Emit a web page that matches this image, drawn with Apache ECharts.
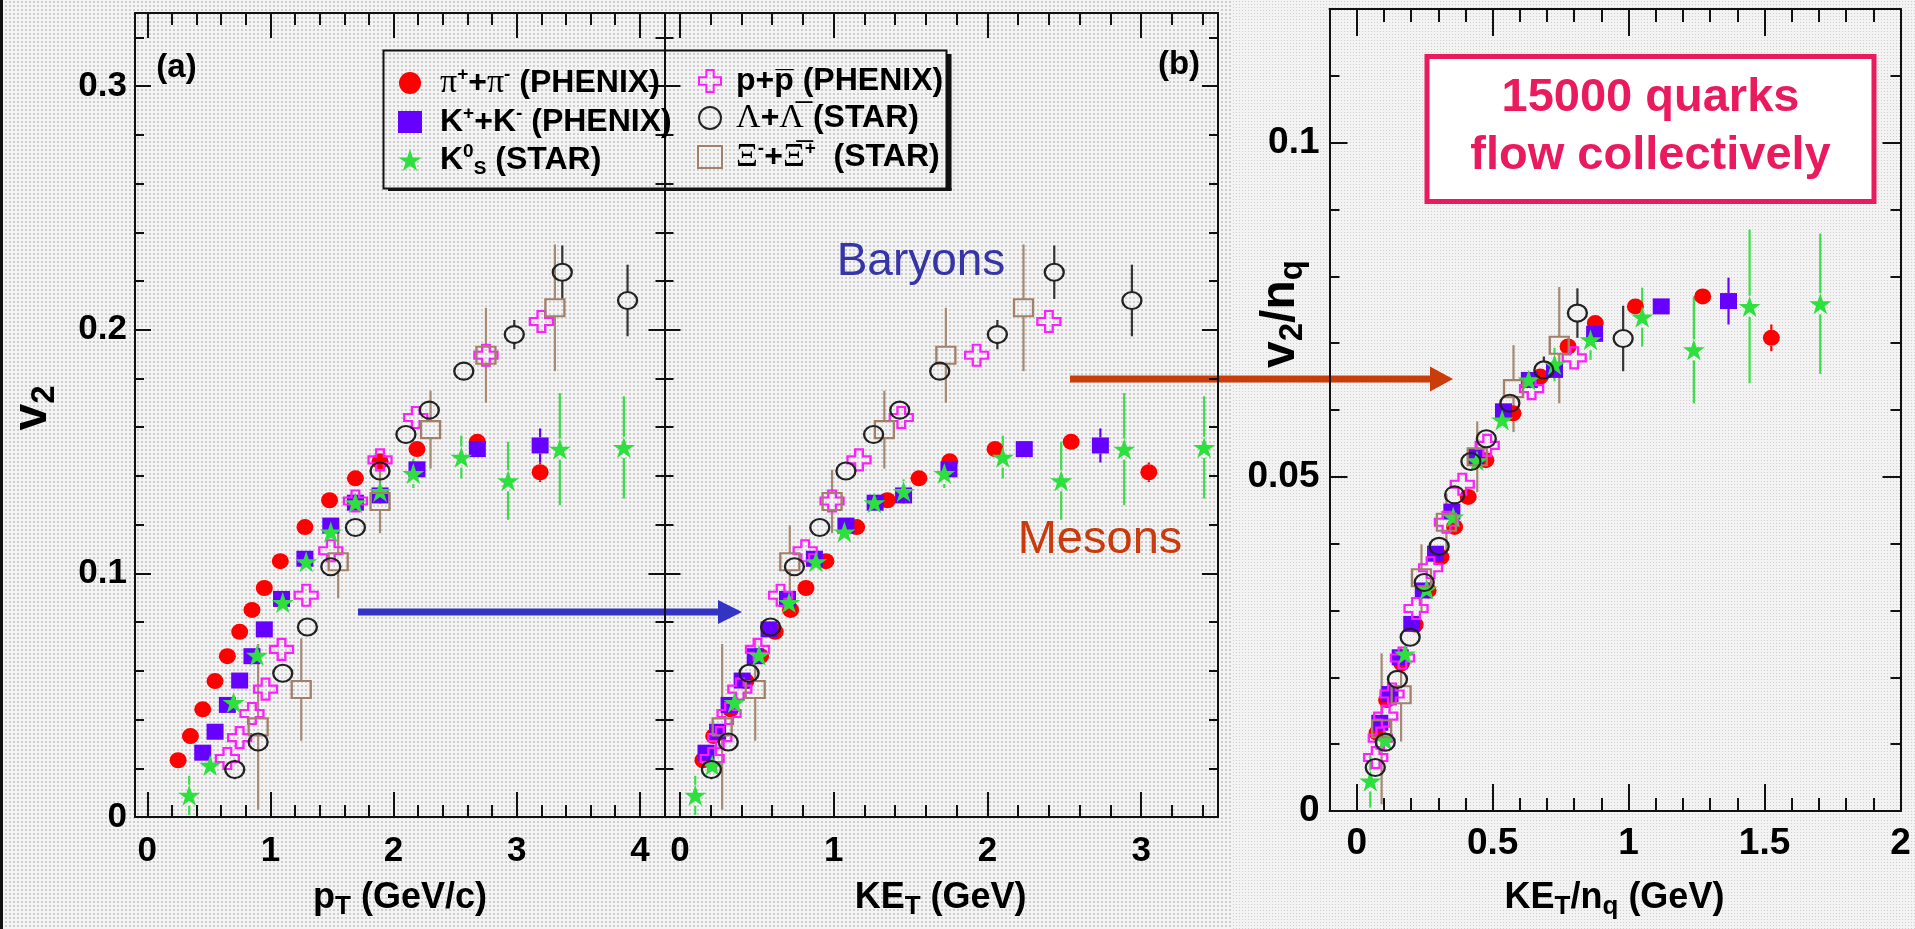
<!DOCTYPE html>
<html>
<head>
<meta charset="utf-8">
<title>Elliptic flow v2 scaling</title>
<script src="https://cdn.jsdelivr.net/npm/echarts@6/dist/echarts.min.js"></script>
<style>
  html, body { margin: 0; padding: 0; width: 1915px; height: 929px; overflow: hidden; background: #f4f4f4; }
  #bgLeft { position: absolute; left: 0; top: 0; width: 1232px; height: 929px;
    background-color: #f4f4f4;
    background-image: radial-gradient(#cdcdcd 0.9px, transparent 1.1px);
    background-size: 4px 4px; }
  #bgRight { position: absolute; left: 1232px; top: 0; width: 683px; height: 929px;
    background-color: #f3f3f3;
    background-image: radial-gradient(#cfcfcf 0.8px, transparent 1px);
    background-size: 3px 3px; }
  #chart { position: absolute; left: 0; top: 0; width: 1915px; height: 929px; }
</style>
</head>
<body>
<div id="bgLeft"></div>
<div id="bgRight"></div>
<div id="chart"></div>
<script>
// ---------------- data ----------------
// Species labels
const NAMES = ['π⁺+π⁻ (PHENIX)', 'K⁺+K⁻ (PHENIX)', 'K⁰s (STAR)', 'p+p̄ (PHENIX)', 'Λ+Λ̄ (STAR)', 'Ξ⁻+Ξ̄⁺ (STAR)'];

// pi+ + pi-  (PHENIX)
const pionPt    = [0.25, 0.35, 0.45, 0.55, 0.65, 0.75, 0.85, 0.95, 1.08, 1.28, 1.48, 1.69, 1.89, 2.19, 2.68, 3.19];
const pionKeT   = [0.15, 0.22, 0.33, 0.43, 0.525, 0.62, 0.72, 0.82, 0.95, 1.15, 1.35, 1.555, 1.755, 2.05, 2.545, 3.05];
const pionV2    = [0.0233, 0.0332, 0.0442, 0.0558, 0.066, 0.076, 0.085, 0.094, 0.105, 0.119, 0.130, 0.139, 0.146, 0.151, 0.154, 0.1415];
const pionErr   = [0, 0, 0, 0, 0, 0, 0, 0, 0, 0, 0, 0, 0, 0, 0, 0.004];
const pionKeTNq = [0.075, 0.11, 0.165, 0.215, 0.2625, 0.31, 0.36, 0.41, 0.475, 0.575, 0.675, 0.7775, 0.8775, 1.025, 1.2725, 1.525];
const pionV2Nq  = [0.0117, 0.0166, 0.0221, 0.0279, 0.033, 0.038, 0.0425, 0.047, 0.0525, 0.0595, 0.065, 0.0695, 0.073, 0.0755, 0.077, 0.0708];
const pionErrNq = [0, 0, 0, 0, 0, 0, 0, 0, 0, 0, 0, 0, 0, 0, 0, 0.002];

// K+ + K-  (PHENIX)
const kaonPt    = [0.45, 0.55, 0.65, 0.75, 0.85, 0.95, 1.09, 1.28, 1.49, 1.69, 1.89, 2.19, 2.68, 3.19];
const kaonKeT   = [0.17, 0.245, 0.32, 0.405, 0.49, 0.58, 0.70, 0.875, 1.08, 1.27, 1.455, 1.75, 2.24, 2.735];
const kaonV2    = [0.0264, 0.035, 0.046, 0.056, 0.066, 0.077, 0.0895, 0.106, 0.1196, 0.129, 0.132, 0.1427, 0.151, 0.1525];
const kaonErr   = [0, 0, 0, 0, 0, 0, 0, 0, 0, 0, 0, 0, 0, 0.007];
const kaonKeTNq = [0.085, 0.1225, 0.16, 0.2025, 0.245, 0.29, 0.35, 0.4375, 0.54, 0.635, 0.7275, 0.875, 1.12, 1.3675];
const kaonV2Nq  = [0.0132, 0.0175, 0.023, 0.028, 0.033, 0.0385, 0.0448, 0.053, 0.0598, 0.0645, 0.066, 0.0714, 0.0755, 0.0763];
const kaonErrNq = [0, 0, 0, 0, 0, 0, 0, 0, 0, 0, 0, 0, 0, 0.0035];

// K0s  (STAR)
const k0sPt     = [0.34, 0.51, 0.70, 0.89, 1.10, 1.29, 1.49, 1.69, 1.89, 2.16, 2.55, 2.93, 3.35, 3.87];
const k0sKeT    = [0.10, 0.21, 0.355, 0.515, 0.71, 0.885, 1.07, 1.265, 1.455, 1.72, 2.10, 2.48, 2.89, 3.41];
const k0sV2     = [0.0089, 0.0212, 0.047, 0.0664, 0.088, 0.1048, 0.117, 0.129, 0.1336, 0.141, 0.1477, 0.138, 0.151, 0.1517];
const k0sErr    = [0.008, 0.003, 0.002, 0.002, 0.002, 0.002, 0.003, 0.003, 0.005, 0.006, 0.0088, 0.016, 0.023, 0.021];
const k0sKeTNq  = [0.05, 0.105, 0.1775, 0.2575, 0.355, 0.4425, 0.535, 0.6325, 0.7275, 0.86, 1.05, 1.24, 1.445, 1.705];
const k0sV2Nq   = [0.0045, 0.0106, 0.0235, 0.0332, 0.044, 0.0524, 0.0585, 0.0645, 0.0668, 0.0705, 0.0739, 0.069, 0.0755, 0.0759];
const k0sErrNq  = [0.004, 0.0015, 0.001, 0.001, 0.001, 0.001, 0.0015, 0.0015, 0.0025, 0.003, 0.0044, 0.008, 0.0115, 0.0105];

// p + pbar  (PHENIX)
const protonPt    = [0.65, 0.75, 0.85, 0.96, 1.09, 1.29, 1.49, 1.69, 1.89, 2.18, 2.75, 3.20];
const protonKeT   = [0.21, 0.26, 0.32, 0.39, 0.505, 0.655, 0.815, 0.99, 1.165, 1.44, 1.93, 2.40];
const protonV2    = [0.024, 0.0326, 0.0425, 0.0525, 0.0688, 0.091, 0.1093, 0.1297, 0.1466, 0.164, 0.1895, 0.2034];
const protonKeTNq = [0.07, 0.0867, 0.1067, 0.13, 0.1683, 0.2183, 0.2717, 0.33, 0.3883, 0.48, 0.6433, 0.80];
const protonV2Nq  = [0.008, 0.0109, 0.0142, 0.0175, 0.0229, 0.0303, 0.0364, 0.0432, 0.0489, 0.0547, 0.0632, 0.0678];

// Lambda + anti-Lambda  (STAR)
const lambdaPt    = [0.71, 0.90, 1.10, 1.30, 1.49, 1.69, 1.89, 2.10, 2.29, 2.57, 2.98, 3.37, 3.90];
const lambdaKeT   = [0.205, 0.315, 0.45, 0.59, 0.745, 0.91, 1.08, 1.26, 1.43, 1.69, 2.065, 2.435, 2.94];
const lambdaV2    = [0.0195, 0.0308, 0.059, 0.078, 0.1027, 0.1188, 0.142, 0.157, 0.167, 0.183, 0.198, 0.2236, 0.212];
const lambdaErr   = [0.004, 0.002, 0.002, 0.002, 0.002, 0.002, 0.003, 0.002, 0.003, 0.003, 0.006, 0.011, 0.0147];
const lambdaKeTNq = [0.0683, 0.105, 0.15, 0.1967, 0.2483, 0.3033, 0.36, 0.42, 0.4767, 0.5633, 0.6883, 0.8117, 0.98];
const lambdaV2Nq  = [0.0065, 0.0103, 0.0197, 0.026, 0.0342, 0.0396, 0.0473, 0.0523, 0.0557, 0.061, 0.066, 0.0745, 0.0707];
const lambdaErrNq = [0.0013, 0.0007, 0.0007, 0.0007, 0.0007, 0.0007, 0.001, 0.0007, 0.001, 0.001, 0.002, 0.0037, 0.0049];

// Xi- + anti-Xi+  (STAR)
const xiPt    = [0.90, 1.25, 1.55, 1.89, 2.30, 2.75, 3.31];
const xiKeT   = [0.275, 0.49, 0.715, 0.99, 1.33, 1.73, 2.235];
const xiV2    = [0.037, 0.0523, 0.1048, 0.1295, 0.159, 0.1895, 0.209];
const xiErr   = [0.034, 0.021, 0.015, 0.013, 0.016, 0.0195, 0.026];
const xiKeTNq = [0.0917, 0.1633, 0.2383, 0.33, 0.4433, 0.5767, 0.745];
const xiV2Nq  = [0.0123, 0.0174, 0.0349, 0.0432, 0.053, 0.0632, 0.0697];
const xiErrNq = [0.0113, 0.007, 0.005, 0.0043, 0.0053, 0.0065, 0.0087];

// Tick labels
const xTicksA = [0, 1, 2, 3, 4];
const xTicksB = [0, 1, 2, 3];
const xTicksC = [0, 0.5, 1, 1.5, 2];
const yTicksAB = [0, 0.1, 0.2, 0.3];
const yTicksC = [0, 0.05, 0.1];

// ---------------- styling ----------------
const FONT = '"Liberation Sans", Arial, Helvetica, sans-serif';
const SERIF = '"Liberation Serif", "Times New Roman", serif';
const STAR = 'path://M50,0L61.8,35.4L98.9,35.4L68.9,57.3L80.3,92.7L50,70.8L19.7,92.7L31.1,57.3L1.1,35.4L38.2,35.4Z';
const CROSS = 'path://M1,0L2,0L2,1L3,1L3,2L2,2L2,3L1,3L1,2L0,2L0,1L1,1Z';
const INK = '#111';

// panel geometry: [left, top, width, height] and axis ranges
const PANELS = [
  { box: [135, 13, 529.5, 804], x: [-0.1, 4.2], y: [0, 0.33], xMajor: xTicksA, xStep: 0.2, yMajor: yTicksAB, yStep: 0.02, yLabels: true,
    tick: { xMaj: 25, xMin: 12, yMaj: 16, yMin: 9 } },
  { box: [664.5, 13, 553.5, 804], x: [-0.1, 3.5], y: [0, 0.33], xMajor: xTicksB, xStep: 0.2, yMajor: yTicksAB, yStep: 0.02, yLabels: false,
    tick: { xMaj: 25, xMin: 12, yMaj: 16, yMin: 9 } },
  { box: [1329.5, 9, 571, 802], x: [-0.1, 2.0], y: [0, 0.12], xMajor: xTicksC, xStep: 0.1, yMajor: yTicksC, yStep: 0.01, yLabels: true,
    tick: { xMaj: 27, xMin: 13, yMaj: 18, yMin: 10 } }
];

const SPECIES = [
  { name: NAMES[0], x: [pionPt, pionKeT, pionKeTNq], y: [pionV2, pionV2, pionV2Nq], e: [pionErr, pionErr, pionErrNq],
    symbol: 'circle', size: [17, 16], fill: '#ff0000', errColor: '#ff0000' },
  { name: NAMES[1], x: [kaonPt, kaonKeT, kaonKeTNq], y: [kaonV2, kaonV2, kaonV2Nq], e: [kaonErr, kaonErr, kaonErrNq],
    symbol: 'rect', size: [17, 16], fill: '#6600ff', errColor: '#6600ff' },
  { name: NAMES[3], x: [protonPt, protonKeT, protonKeTNq], y: [protonV2, protonV2, protonV2Nq], e: null,
    symbol: CROSS, size: [23, 21], stroke: '#ff1eff', errColor: '#ff1eff' },
  { name: NAMES[2], x: [k0sPt, k0sKeT, k0sKeTNq], y: [k0sV2, k0sV2, k0sV2Nq], e: [k0sErr, k0sErr, k0sErrNq],
    symbol: STAR, size: [22, 21], fill: '#2ee03e', errColor: '#3ade48' },
  { name: NAMES[5], x: [xiPt, xiKeT, xiKeTNq], y: [xiV2, xiV2, xiV2Nq], e: [xiErr, xiErr, xiErrNq],
    symbol: 'rect', size: [19, 17], stroke: '#a2806a', errColor: '#a58a74' },
  { name: NAMES[4], x: [lambdaPt, lambdaKeT, lambdaKeTNq], y: [lambdaV2, lambdaV2, lambdaV2Nq], e: [lambdaErr, lambdaErr, lambdaErrNq],
    symbol: 'circle', size: [19, 17], stroke: '#222222', errColor: '#333333' }
];

// ---------------- axes ----------------
function gridTicks(min, max, step) {
  const out = [];
  for (let i = Math.ceil(min / step - 1e-9); i * step <= max + 1e-9; i++) out.push(+(i * step).toFixed(6));
  return out;
}

const grids = [], xAxes = [], yAxes = [];
PANELS.forEach((p, gi) => {
  grids.push({ left: p.box[0], top: p.box[1], width: p.box[2], height: p.box[3], containLabel: false });
  const xMinor = gridTicks(p.x[0], p.x[1], p.xStep);
  const yMinor = gridTicks(p.y[0], p.y[1], p.yStep);
  const mk = (pos, range, ticks, len, line, labels, margin) => ({
    type: 'value', gridIndex: gi, position: pos, min: range[0], max: range[1],
    axisLine: { show: line, onZero: false, lineStyle: { color: INK, width: 2 } },
    axisTick: { show: true, inside: true, length: len, customValues: ticks, lineStyle: { color: INK, width: 2 } },
    axisLabel: labels ? { show: true, customValues: labels, margin: margin, color: '#000',
      fontFamily: FONT, fontWeight: 'bold', fontSize: gi === 2 ? 37 : 35 } : { show: false },
    splitLine: { show: false }, minorTick: { show: false }
  });
  // x: bottom major (carries data), bottom minor, top major, top minor
  xAxes.push(mk('bottom', p.x, p.xMajor, p.tick.xMaj, true, p.xMajor, gi === 2 ? 14 : 17));
  xAxes.push(mk('bottom', p.x, xMinor, p.tick.xMin, false, null));
  xAxes.push(mk('top', p.x, p.xMajor, p.tick.xMaj, true, null));
  xAxes.push(mk('top', p.x, xMinor, p.tick.xMin, false, null));
  // y: left major (carries data), left minor, right major, right minor
  yAxes.push(mk('left', p.y, p.yMajor, p.tick.yMaj, true, p.yLabels ? p.yMajor : null, gi === 2 ? 10 : 8));
  yAxes.push(mk('left', p.y, yMinor, p.tick.yMin, false, null));
  yAxes.push(mk('right', p.y, p.yMajor, p.tick.yMaj, true, null));
  yAxes.push(mk('right', p.y, yMinor, p.tick.yMin, false, null));
});

// ---------------- series ----------------
const series = [];
// error bars below the markers, leaving a gap where the marker sits
SPECIES.forEach(sp => {
  if (!sp.e) return;
  const gap = sp.size[1] / 2;
  [0, 1, 2].forEach(pi => {
    const data = sp.x[pi].map((x, i) => [x, sp.y[pi][i], sp.e[pi][i]]).filter(d => d[2] > 0);
    series.push({
      type: 'custom', name: sp.name + ' err', xAxisIndex: pi * 4, yAxisIndex: pi * 4, silent: true, z: 2,
      data: data, encode: { x: 0, y: 1 },
      renderItem: (params, api) => {
        const x = api.value(0), y = api.value(1), e = api.value(2);
        const c = api.coord([x, y]);
        const lo = api.coord([x, y - e]), hi = api.coord([x, y + e]);
        const style = { stroke: sp.errColor, lineWidth: 2.2 };
        const parts = [];
        if (hi[1] < c[1] - gap) parts.push({ type: 'line', shape: { x1: c[0], y1: c[1] - gap, x2: hi[0], y2: hi[1] }, style: style });
        if (lo[1] > c[1] + gap) parts.push({ type: 'line', shape: { x1: c[0], y1: c[1] + gap, x2: lo[0], y2: lo[1] }, style: style });
        return { type: 'group', children: parts };
      }
    });
  });
});
// markers
SPECIES.forEach(sp => {
  [0, 1, 2].forEach(pi => {
    series.push({
      type: 'scatter', name: sp.name, xAxisIndex: pi * 4, yAxisIndex: pi * 4, z: 3,
      symbol: sp.symbol, symbolSize: sp.size, symbolKeepAspect: false,
      data: sp.x[pi].map((x, i) => [x, sp.y[pi][i]]),
      itemStyle: sp.fill ? { color: sp.fill, opacity: 1 }
        : { color: 'rgba(0,0,0,0)', borderColor: sp.stroke, borderWidth: 2.2, opacity: 1 },
      emphasis: { disabled: true }
    });
  });
});

// ---------------- legend ----------------
const LEGEND_TEXT = {};
LEGEND_TEXT[NAMES[0]] = '{g|π}{sup|+}{b|+}{g|π}{sup|-}{b| (PHENIX)}';
LEGEND_TEXT[NAMES[1]] = '{b|K}{sup|+}{b|+K}{sup|-}{b| (PHENIX)}';
LEGEND_TEXT[NAMES[2]] = '{b|K}{sup|0}{sub|S}{b| (STAR)}';
LEGEND_TEXT[NAMES[3]] = '{b|p+p\u0305 (PHENIX)}';
LEGEND_TEXT[NAMES[4]] = '{g|Λ}{b|+}{g|Λ\u0305}{b| (STAR)}';
LEGEND_TEXT[NAMES[5]] = '{g|Ξ}{sup|-}{b|+}{g|Ξ\u0305}{sup|+}{b|  (STAR)}';

const LEGEND_RICH = {
  b: { fontFamily: FONT, fontWeight: 'bold', fontSize: 32, lineHeight: 36, color: '#000' },
  g: { fontFamily: SERIF, fontWeight: 'normal', fontSize: 34, lineHeight: 36, color: '#000' },
  sup: { fontFamily: FONT, fontWeight: 'bold', fontSize: 19, lineHeight: 20, verticalAlign: 'top', color: '#000' },
  sub: { fontFamily: FONT, fontWeight: 'bold', fontSize: 19, lineHeight: 18, verticalAlign: 'bottom', color: '#000' }
};
function legendCol(names, left, pad) {
  return {
    show: true, orient: 'vertical', left: left, top: 60, itemWidth: 24, itemHeight: 22, itemGap: 4,
    selectedMode: false, data: names, formatter: n => LEGEND_TEXT[n],
    textStyle: { rich: LEGEND_RICH, padding: [0, 0, 0, pad] }
  };
}

// ---------------- annotations ----------------
const TITLE_RICH = {
  a: { fontFamily: FONT, fontWeight: 'bold', fontSize: 36, lineHeight: 44, color: '#000' },
  s: { fontFamily: FONT, fontWeight: 'bold', fontSize: 26, lineHeight: 18, verticalAlign: 'bottom', color: '#000' }
};
const VT_RICH = {
  a: { fontFamily: FONT, fontWeight: 'bold', fontSize: 48, lineHeight: 56, color: '#000' },
  s: { fontFamily: FONT, fontWeight: 'bold', fontSize: 33, lineHeight: 22, verticalAlign: 'bottom', color: '#000' }
};
function label(x, y, text, rich, rotation) {
  return { type: 'text', x: x, y: y, rotation: rotation || 0, z: 10,
    style: { text: text, rich: rich, align: 'center', verticalAlign: 'middle' } };
}
function plain(x, y, text, size, weight, color, family) {
  return { type: 'text', x: x, y: y, z: 10,
    style: { text: text, fontSize: size, fontWeight: weight, fill: color, fontFamily: family || FONT,
      align: 'center', verticalAlign: 'middle' } };
}
function arrow(x1, x2, y, w, head, halfH, color) {
  return { type: 'group', z: 9, children: [
    { type: 'rect', shape: { x: x1, y: y - w / 2, width: x2 - head - x1, height: w }, style: { fill: color } },
    { type: 'polygon', shape: { points: [[x2 - head, y - halfH], [x2, y], [x2 - head, y + halfH]] }, style: { fill: color } }
  ] };
}

const graphic = [
  { type: 'rect', shape: { x: 0, y: 0, width: 3, height: 929 }, style: { fill: INK } },
  // legend frame with drop shadow
  { type: 'rect', z: 8, shape: { x: 383.5, y: 50.5, width: 563, height: 138 }, style: { fill: 'rgba(0,0,0,0)', stroke: INK, lineWidth: 2 } },
  { type: 'rect', z: 8, shape: { x: 946, y: 54, width: 5.5, height: 136.5 }, style: { fill: INK } },
  { type: 'rect', z: 8, shape: { x: 388, y: 188, width: 563.5, height: 3 }, style: { fill: INK } },
  // panel tags
  plain(176.5, 68, '(a)', 33, 'bold', '#000'),
  plain(1179, 65, '(b)', 33, 'bold', '#000'),
  // axis titles
  label(400, 898, '{a|p}{s|T}{a| (GeV/c)}', TITLE_RICH),
  label(940.6, 898, '{a|KE}{s|T}{a| (GeV)}', TITLE_RICH),
  label(1614.5, 898, '{a|KE}{s|T}{a|/n}{s|q}{a| (GeV)}', TITLE_RICH),
  label(33, 408, '{a|v}{s|2}', VT_RICH, Math.PI / 2),
  label(1281, 314, '{a|v}{s|2}{a|/n}{s|q}', VT_RICH, Math.PI / 2),
  // group labels and arrows
  plain(921, 262, 'Baryons', 46, 'normal', '#3535a8'),
  plain(1100, 540, 'Mesons', 47, 'normal', '#c93a0c'),
  arrow(358, 742, 612, 7, 24, 12, '#3434c4'),
  arrow(1070, 1453, 379, 7, 23, 12.5, '#cb3c0b'),
  // quark box
  { type: 'rect', z: 8, shape: { x: 1427, y: 56.5, width: 447, height: 145 }, style: { fill: '#ffffff', stroke: '#ea1a5f', lineWidth: 5 } },
  plain(1650.5, 98, '15000 quarks', 47, 'bold', '#ea1a5f'),
  plain(1650.5, 156, 'flow collectively', 47, 'bold', '#ea1a5f')
];

const chart = echarts.init(document.getElementById('chart'), null, { renderer: 'canvas' });
chart.setOption({
  backgroundColor: 'transparent',
  animation: false,
  grid: grids,
  xAxis: xAxes,
  yAxis: yAxes,
  legend: [legendCol([NAMES[0], NAMES[1], NAMES[2]], 393, 13), legendCol([NAMES[3], NAMES[4], NAMES[5]], 692, 9)],
  series: series,
  graphic: graphic
});
</script>
</body>
</html>
